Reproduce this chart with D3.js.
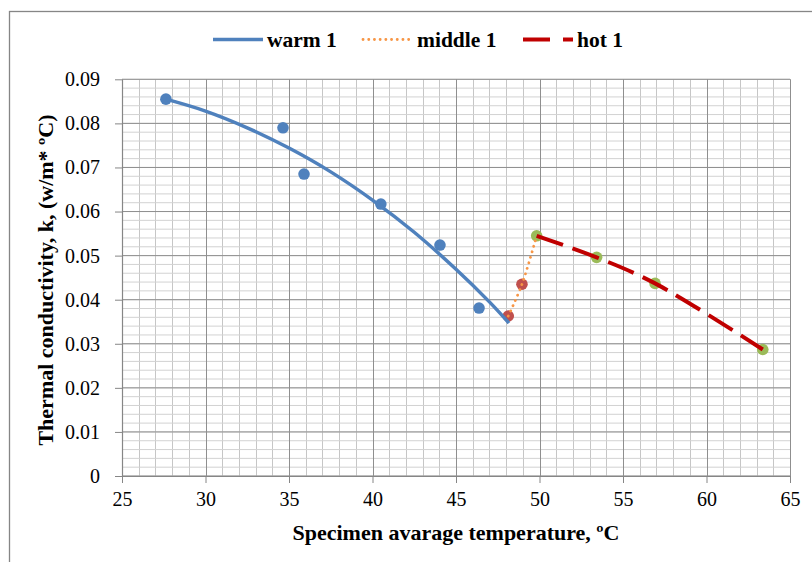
<!DOCTYPE html>
<html>
<head>
<meta charset="utf-8">
<script src="https://cdn.jsdelivr.net/npm/d3@7"></script>
<style>
  html, body { margin: 0; padding: 0; background: #fff; }
  svg { display: block; }
  svg text { font-family: "Liberation Serif", "Times New Roman", serif !important; fill: #000; }
</style>
</head>
<body>
<svg id="chart" width="812" height="562"></svg>
<script>
// ---- data ----
const warmX = [27.63, 34.64, 35.9, 40.5, 44.04, 46.38];
const warmK = [0.0855, 0.0790, 0.0685, 0.0617, 0.0524, 0.0381];

// warm 1 trend curve
const warmCurveX = [27.63, 30, 32.5, 35, 37.5, 40, 42.5, 45, 47, 48.17];
const warmCurveK = [0.0855, 0.0828, 0.0790, 0.0744, 0.0690, 0.0626, 0.0553, 0.0469, 0.0395, 0.0347];

const middleX = [48.13, 48.95, 49.83];
const middleK = [0.0363, 0.0435, 0.0545];
const middleMarkerCount = 2;

const hotX = [49.83, 53.42, 56.92, 63.37];
const hotK = [0.0545, 0.0496, 0.0437, 0.0287];

const seriesNames = ["warm 1", "middle 1", "hot 1"];

const xTicks = [25, 30, 35, 40, 45, 50, 55, 60, 65];
const xTickLabels = ["25", "30", "35", "40", "45", "50", "55", "60", "65"];
const yTicks = [0, 0.01, 0.02, 0.03, 0.04, 0.05, 0.06, 0.07, 0.08, 0.09];
const yTickLabels = ["0", "0.01", "0.02", "0.03", "0.04", "0.05", "0.06", "0.07", "0.08", "0.09"];
const xMinorStep = 1;
const yMinorStep = 0.002;

const xTitle = "Specimen avarage temperature, \u00baC";
const yTitle = "Thermal conductivity, k, (w/m* \u00baC)";

// ---- layout ----
const FONT = "'Liberation Serif', 'Times New Roman', serif";
const svg = d3.select("#chart");
const plot = { left: 122, right: 790, top: 79.3, bottom: 476 };

const x = d3.scaleLinear().domain([25, 65]).range([plot.left, plot.right]);
const y = d3.scaleLinear().domain([0, 0.09]).range([plot.bottom, plot.top]);

// outer chart border
svg.append("rect")
  .attr("x", 9.5).attr("y", 11.5)
  .attr("width", 900).attr("height", 700)
  .attr("fill", "#fff").attr("stroke", "#868686").attr("stroke-width", 1.3);

// minor grid
const xMinor = d3.range(25, 65 + 1e-9, xMinorStep);
const yMinor = d3.range(0, 0.09 + 1e-9, yMinorStep);
const grid = svg.append("g");
grid.selectAll("line.vx").data(xMinor).join("line")
  .attr("x1", d => Math.round(x(d)) + 0.5).attr("x2", d => Math.round(x(d)) + 0.5)
  .attr("y1", plot.top).attr("y2", plot.bottom)
  .attr("stroke", "#c6c6c6").attr("stroke-width", 1);
grid.selectAll("line.hy").data(yMinor).join("line")
  .attr("y1", d => y(d)).attr("y2", d => y(d))
  .attr("x1", plot.left).attr("x2", plot.right)
  .attr("stroke", "#d2d2d2").attr("stroke-width", 1);
// major grid
grid.selectAll("line.mx").data(xTicks).join("line")
  .attr("x1", d => Math.round(x(d)) + 0.5).attr("x2", d => Math.round(x(d)) + 0.5)
  .attr("y1", plot.top).attr("y2", plot.bottom)
  .attr("stroke", "#8f8f8f").attr("stroke-width", 1);
grid.selectAll("line.my").data(yTicks).join("line")
  .attr("y1", d => y(d)).attr("y2", d => y(d))
  .attr("x1", plot.left).attr("x2", plot.right)
  .attr("stroke", "#8f8f8f").attr("stroke-width", 1);

// axes
const xAxis = d3.axisBottom(x).tickValues(xTicks)
  .tickFormat((d, i) => xTickLabels[i]).tickSizeInner(7).tickSizeOuter(0).tickPadding(9);
const gx = svg.append("g").attr("transform", `translate(0,${plot.bottom})`).call(xAxis)
  .attr("font-family", FONT).attr("font-size", 20);
gx.select(".domain").attr("stroke", "#868686").attr("stroke-width", 1.2);
gx.selectAll(".tick line").attr("stroke", "#868686");
gx.selectAll(".tick text").attr("fill", "#000");

const yAxis = d3.axisLeft(y).tickValues(yTicks)
  .tickFormat((d, i) => yTickLabels[i]).tickSizeInner(7).tickSizeOuter(0).tickPadding(15);
const gy = svg.append("g").attr("transform", `translate(${plot.left},0)`).call(yAxis)
  .attr("font-family", FONT).attr("font-size", 20);
gy.select(".domain").attr("stroke", "#868686").attr("stroke-width", 1.2);
gy.selectAll(".tick line").attr("stroke", "#868686");
gy.selectAll(".tick text").attr("fill", "#000");

// axis titles
svg.append("text")
  .attr("x", (plot.left + plot.right) / 2).attr("y", 540)
  .attr("text-anchor", "middle")
  .style("font-size", "22px").style("font-weight", "bold")
  .text(xTitle);
svg.append("text")
  .attr("transform", `translate(53,280) rotate(-90)`)
  .attr("text-anchor", "middle")
  .style("font-size", "22px").style("font-weight", "bold")
  .text(yTitle);

// lines
const line = d3.line().x(d => x(d[0])).y(d => y(d[1])).curve(d3.curveCatmullRom.alpha(0.5));

const warmCurve = warmCurveX.map((v, i) => [v, warmCurveK[i]]);
const middlePts = middleX.map((v, i) => [v, middleK[i]]);
const hotPts = hotX.map((v, i) => [v, hotK[i]]);
const warmPts = warmX.map((v, i) => [v, warmK[i]]);

const colors = { warm: "#4f81bd", middle: "#f79646", hot: "#c00000",
                 warmM: "#4f81bd", middleM: "#c0504d", hotM: "#9bbb59" };

// markers
svg.append("g").selectAll("circle").data(warmPts).join("circle")
  .attr("cx", d => x(d[0])).attr("cy", d => y(d[1])).attr("r", 5.8).attr("fill", colors.warmM);
svg.append("g").selectAll("circle").data(middlePts.slice(0, middleMarkerCount)).join("circle")
  .attr("cx", d => x(d[0])).attr("cy", d => y(d[1])).attr("r", 5.8).attr("fill", colors.middleM);
svg.append("g").selectAll("circle").data(hotPts).join("circle")
  .attr("cx", d => x(d[0])).attr("cy", d => y(d[1])).attr("r", 5.8).attr("fill", colors.hotM);

svg.append("path").datum(warmCurve).attr("d", line)
  .attr("fill", "none").attr("stroke", colors.warm).attr("stroke-width", 3.5);
svg.append("path").datum(middlePts).attr("d", line)
  .attr("fill", "none").attr("stroke", colors.middle).attr("stroke-width", 2.8)
  .attr("stroke-linecap", "round").attr("stroke-dasharray", "0.1,5.6");
svg.append("path").datum(hotPts).attr("d", line)
  .attr("fill", "none").attr("stroke", colors.hot).attr("stroke-width", 4)
  .attr("stroke-dasharray", "28,10");

// legend
const legendItems = [
  { name: seriesNames[0], x1: 213, x2: 263, tx: 267, color: colors.warm, w: 3.5, dash: null, cap: "butt" },
  { name: seriesNames[1], x1: 363, x2: 409, tx: 417, color: colors.middle, w: 2.8, dash: "0.1,5.6", cap: "round" },
  { name: seriesNames[2], x1: 523, x2: 573, tx: 577, color: colors.hot, w: 4, dash: "27,13", cap: "butt" }
];
const lg = svg.append("g");
legendItems.forEach(it => {
  lg.append("line").attr("x1", it.x1).attr("x2", it.x2).attr("y1", 39.5).attr("y2", 39.5)
    .attr("stroke", it.color).attr("stroke-width", it.w)
    .attr("stroke-dasharray", it.dash).attr("stroke-linecap", it.cap);
  lg.append("text").attr("x", it.tx).attr("y", 46.5)
    .style("font-size", "21.5px").style("font-weight", "bold").text(it.name);
});
</script>
</body>
</html>
